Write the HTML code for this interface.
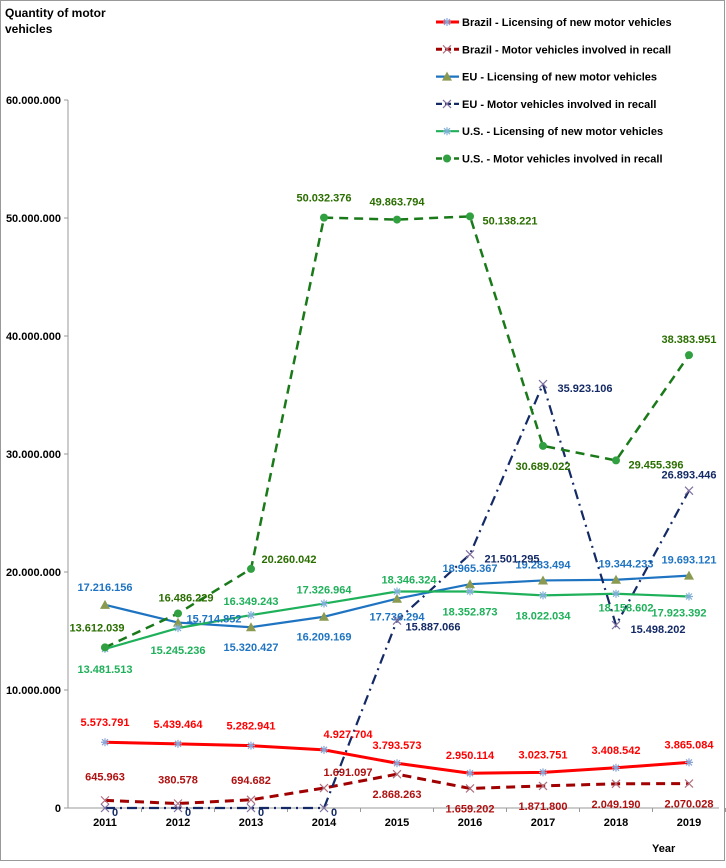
<!DOCTYPE html>
<html><head><meta charset="utf-8">
<style>
html,body{margin:0;padding:0;background:#fff;}
body{width:726px;height:863px;overflow:hidden;font-family:"Liberation Sans",Arial,sans-serif;}
svg text{font-family:"Liberation Sans",Arial,sans-serif;font-weight:bold;}
</style></head>
<body>
<svg id="chart" width="726" height="863" viewBox="0 0 726 863">
<rect x="0.5" y="0.5" width="724" height="860" fill="#fff" stroke="#999"/>
<text x="5" y="17" font-size="12" fill="#000">Quantity of motor</text>
<text x="5" y="33" font-size="12" fill="#000">vehicles</text>
<text x="652" y="852" font-size="11" fill="#000">Year</text>
<g id="axes"></g><g id="series"></g><g id="legend"></g>
</svg>
<script>
const years=["2011","2012","2013","2014","2015","2016","2017","2018","2019"];
const yTicks=[0,10000000,20000000,30000000,40000000,50000000,60000000];
const yTickLabels=["0","10.000.000","20.000.000","30.000.000","40.000.000","50.000.000","60.000.000"];
const brazilLic=[5573791,5439464,5282941,4927704,3793573,2950114,3023751,3408542,3865084];
const brazilRecall=[645963,380578,694682,1691097,2868263,1659202,1871800,2049190,2070028];
const euLic=[17216156,15714852,15320427,16209169,17736294,18965367,19283494,19344233,19693121];
const euRecall=[0,0,0,0,15887066,21501295,35923106,15498202,26893446];
const usLic=[13481513,15245236,16349243,17326964,18346324,18352873,18022034,18158602,17923392];
const usRecall=[13612039,16486229,20260042,50032376,49863794,50138221,30689022,29455396,38383951];
const legendLabels=["Brazil - Licensing of new motor vehicles","Brazil  - Motor vehicles involved in recall","EU  - Licensing of new motor vehicles","EU - Motor vehicles involved in recall","U.S. - Licensing of new motor vehicles","U.S.  - Motor vehicles involved in recall"];

const NS="http://www.w3.org/2000/svg";
const X0=105,XS=73,Y0=808,YT=100,YMAX=60000000;
const xPos=i=>X0+i*XS;
const yPos=v=>Y0-(v/YMAX)*(Y0-YT);
const fmt=v=>v===0?"0":String(v).replace(/\B(?=(\d{3})+(?!\d))/g,".");
function mk(tag,attrs,parent){const e=document.createElementNS(NS,tag);for(const k in attrs)e.setAttribute(k,attrs[k]);parent.appendChild(e);return e;}
const axes=document.getElementById('axes'),ser=document.getElementById('series'),leg=document.getElementById('legend');

let a=mk('line',{x1:68,y1:YT,x2:68,y2:Y0,stroke:'#999'},axes);


a=mk('line',{x1:68,y1:Y0,x2:xPos(8)+30,y2:Y0,stroke:'#999'},axes);


yTicks.forEach((t,i)=>{
  const y=yPos(t);
  mk('line',{x1:64,y1:y,x2:68,y2:y,stroke:'#999'},axes);
  const tx=mk('text',{x:61,y:y+4,'font-size':11,'text-anchor':'end',fill:'#000'},axes);
  tx.textContent=yTickLabels[i];
  
  
});
years.forEach((yr,i)=>{
  const x=xPos(i);
  mk('line',{x1:x+XS/2,y1:Y0,x2:x+XS/2,y2:Y0+4,stroke:'#999'},axes);
  const tx=mk('text',{x:x,y:826,'font-size':11,'text-anchor':'middle',fill:'#000'},axes);
  tx.textContent=yr;
  
  
});

function marker(type,x,y,col,g){
  if(type==='ast'){
    mk('path',{d:`M${x-4} ${y}H${x+4}M${x} ${y-4}V${y+4}M${x-3} ${y-3}L${x+3} ${y+3}M${x-3} ${y+3}L${x+3} ${y-3}`,stroke:col,'stroke-width':1.2,fill:'none'},g);
  }else if(type==='x'){
    mk('path',{d:`M${x-4} ${y-4}L${x+4} ${y+4}M${x-4} ${y+4}L${x+4} ${y-4}`,stroke:col,'stroke-width':1.2,fill:'none'},g);
  }else if(type==='tri'){
    mk('path',{d:`M${x} ${y-5}L${x+5} ${y+4}L${x-5} ${y+4}Z`,fill:col},g);
  }else if(type==='dot'){
    mk('circle',{cx:x,cy:y,r:4,fill:col},g);
  }
}
const cfg=[
 {name:'brazil-licensing',data:brazilLic,color:'#ff0000',dash:'',w:3,mk:'ast',mc:'#8aa4d6',lc:'#ff0000',
  off:[[0,-20],[0,-20],[0,-20],[24,-16],[0,-18],[0,-18],[0,-18],[0,-18],[0,-18]]},
 {name:'brazil-recall',data:brazilRecall,color:'#a00000',dash:'9,6',w:3,mk:'x',mc:'#b07080',lc:'#b01010',
  off:[[0,-24],[0,-24],[0,-20],[24,-16],[0,20],[0,20],[0,20],[0,20],[0,20]]},
 {name:'eu-licensing',data:euLic,color:'#1f74c2',dash:'',w:2.2,mk:'tri',mc:'#8a9a50',lc:'#1f74c2',
  off:[[0,-18],[36,-4],[0,20],[0,20],[0,18],[0,-16],[0,-16],[10,-16],[0,-16]]},
 {name:'eu-recall',data:euRecall,color:'#142a66',dash:'10,5,2,5',w:2.2,mk:'x',mc:'#8070a0',lc:'#142a66',
  off:[[10,4],[10,4],[10,4],[10,4],[36,6],[42,4],[42,4],[42,4],[0,-16]]},
 {name:'us-licensing',data:usLic,color:'#1fb05a',dash:'',w:2.2,mk:'ast',mc:'#80b0d8',lc:'#1fb05a',
  off:[[0,20],[0,22],[0,-14],[0,-14],[12,-12],[0,20],[0,20],[10,14],[-10,16]]},
 {name:'us-recall',data:usRecall,color:'#1a7a1a',dash:'9,6',w:2.5,mk:'dot',mc:'#30a040',lc:'#2a6e00',
  off:[[-8,-20],[8,-16],[38,-10],[0,-20],[0,-18],[40,4],[0,20],[40,4],[0,-16]]}
];
cfg.forEach(s=>{
  const g=mk('g',{},ser);
  
  
  const pts=s.data.map((v,i)=>xPos(i)+','+yPos(v)).join(' ');
  const pl=mk('polyline',{points:pts,fill:'none',stroke:s.color,'stroke-width':s.w,'stroke-dasharray':s.dash},g);
  
  
});
cfg.forEach(s=>{
  const g=mk('g',{},ser);
  s.data.forEach((v,i)=>{
    const x=xPos(i),y=yPos(v);
    marker(s.mk,x,y,s.mc,g);
    const t=mk('text',{x:x+s.off[i][0],y:y+s.off[i][1]+4,'font-size':11,'text-anchor':'middle',fill:s.lc},g);
    t.textContent=fmt(v);
    
    
  });
});
cfg.forEach((s,i)=>{
  const y=22+i*27.3;
  const g=mk('g',{},leg);
  
  
  mk('line',{x1:436,y1:y,x2:459,y2:y,stroke:s.color,'stroke-width':s.w,'stroke-dasharray':s.dash?'6,3':''},g);
  marker(s.mk,447,y,s.mc,g);
  const t=mk('text',{x:462,y:y+4,'font-size':11,fill:'#000'},g);
  t.textContent=legendLabels[i];
});
</script>
</body></html>
